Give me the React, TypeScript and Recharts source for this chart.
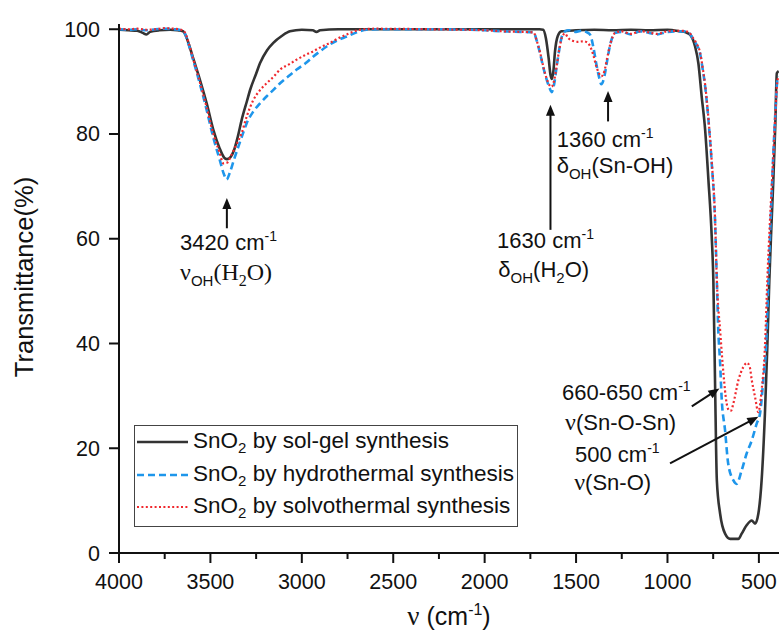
import React from 'react';
import { LineChart, Line, XAxis, YAxis, ReferenceLine, ReferenceDot, Legend } from 'recharts';

const SANS = '"Liberation Sans", Arial, sans-serif';
const SERIF = '"Liberation Serif", "Times New Roman", serif';
const INK = '#111';

// wavenumber (cm-1), transmittance (%)
const solGel: [number, number][] = [
  [4000, 99.9], [3950, 99.8], [3900, 99.7], [3870, 99.3], [3850, 99.0], [3830, 99.5], [3780, 99.8],
  [3720, 99.9], [3680, 99.8], [3650, 99.6], [3635, 98.8], [3615, 96.8], [3590, 94], [3557, 90.3],
  [3520, 85.8], [3484, 80.8], [3450, 77.3], [3425, 75.5], [3410, 75.2], [3390, 75.6], [3370, 77],
  [3350, 79.5], [3329, 82.7], [3300, 86.3], [3283, 88.4], [3250, 91.5], [3229, 93.5], [3190, 96],
  [3156, 97.4], [3110, 98.7], [3065, 99.6], [3000, 99.9], [2940, 99.8], [2920, 99.5], [2900, 99.8],
  [2800, 100], [2500, 100], [2200, 100], [1900, 100], [1700, 100], [1680, 99.9], [1665, 98.3],
  [1650, 94.5], [1640, 91.3], [1632, 90.5], [1624, 92], [1615, 95.8], [1600, 98.7], [1580, 99.6],
  [1500, 99.8], [1400, 99.9], [1300, 99.8], [1200, 99.9], [1100, 99.8], [1000, 99.9], [931, 99.6],
  [900, 99.4], [877, 99], [849, 96.7], [831, 93.5], [813, 87.2], [794, 80.8], [776, 71.2], [758, 60.4],
  [749, 52], [740, 33], [730, 13.9], [712, 7.5], [685, 3.7], [657, 2.7], [612, 2.7], [594, 3.7],
  [567, 5.3], [539, 6.2], [521, 5.6], [503, 7.5], [485, 13.9], [467, 26.6], [454, 39.3], [443, 52],
  [432, 62], [421, 71.2], [410, 82], [402, 91.6], [392, 92],
];

const hydrothermal: [number, number][] = [
  [4000, 100], [3950, 99.9], [3900, 100], [3850, 99.8], [3800, 100], [3750, 100.1], [3700, 100],
  [3660, 99.8], [3640, 99.2], [3620, 97.2], [3600, 94.8], [3557, 89.5], [3520, 84.5], [3484, 79.3],
  [3450, 75.2], [3425, 72.2], [3411, 71.3], [3395, 72.5], [3370, 75.2], [3347, 77.6], [3320, 80.3],
  [3301, 82.1], [3265, 84.3], [3230, 85.8], [3192, 87.2], [3150, 88.6], [3119, 89.7], [3070, 91.1],
  [3028, 92.3], [2980, 93.5], [2937, 94.8], [2900, 95.8], [2864, 96.7], [2810, 97.8], [2754, 98.6],
  [2700, 99.4], [2645, 99.9], [2550, 100], [2300, 100], [2000, 99.8], [1900, 99.6], [1800, 99.5],
  [1733, 99.4], [1715, 97.8], [1697, 95.4], [1680, 92.8], [1660, 90.3], [1645, 88.8], [1634, 88],
  [1620, 89.5], [1606, 92.9], [1590, 96.5], [1578, 98.6], [1560, 99.6], [1540, 99.8], [1500, 99.5],
  [1470, 99.7], [1440, 99.4], [1424, 99.0], [1405, 96.5], [1390, 93.5], [1375, 91], [1362, 89.5],
  [1345, 91], [1330, 94], [1310, 97.5], [1287, 99.3], [1250, 99.5], [1200, 99.0], [1150, 99.6],
  [1100, 99.3], [1058, 99.0], [1000, 99.5], [950, 99.6], [913, 99.6], [880, 99.2], [858, 98],
  [840, 97], [822, 95.4], [808, 92.5], [794, 89.1], [776, 82.7], [758, 74.4], [740, 63.6], [730, 52],
  [722, 42.5], [712, 36.2], [704, 29.8], [685, 23.4], [668, 17.1], [640, 13.9], [622, 13.2],
  [594, 15.8], [567, 19], [539, 21.5], [512, 24.7], [494, 26.6], [476, 33], [461, 39.3], [448, 52],
  [435, 64], [421, 76.3], [410, 84], [399, 90.3], [392, 91],
];

const solvothermal: [number, number][] = [
  [4000, 100.1], [3950, 100], [3900, 100.1], [3850, 99.9], [3800, 100], [3750, 100.2], [3700, 100.1],
  [3660, 99.9], [3640, 99.4], [3620, 97.5], [3600, 95], [3557, 89.8], [3520, 85], [3484, 80],
  [3450, 76.5], [3429, 74.4], [3410, 74.5], [3385, 76], [3360, 77.8], [3329, 80.2], [3300, 83.5],
  [3265, 86.5], [3230, 88.3], [3192, 89.7], [3150, 91.1], [3119, 92.3], [3070, 93.3], [3028, 94.2],
  [2980, 95.1], [2937, 95.8], [2890, 96.7], [2846, 97.4], [2800, 98.3], [2754, 99], [2682, 99.9],
  [2600, 100.1], [2300, 100], [2000, 99.8], [1900, 99.6], [1800, 99.5], [1733, 99.4], [1715, 97.8],
  [1697, 95.6], [1680, 93], [1660, 90.5], [1645, 89.3], [1634, 89], [1620, 90.2], [1606, 93],
  [1590, 96.5], [1578, 98.4], [1560, 99.2], [1545, 98.4], [1520, 97.8], [1490, 97.6], [1460, 97.7],
  [1440, 97.5], [1424, 96.8], [1405, 95], [1390, 93], [1375, 91.6], [1362, 91], [1345, 92],
  [1330, 94.5], [1310, 97.5], [1287, 99.3], [1250, 99.6], [1200, 99.1], [1150, 99.6], [1100, 99.4],
  [1058, 99.1], [1000, 99.6], [950, 99.7], [913, 99.7], [880, 99.3], [858, 98.2], [840, 97.2],
  [822, 95.6], [808, 92.8], [794, 89.4], [776, 83], [758, 74.8], [740, 64], [730, 52.1], [712, 42.5],
  [694, 34.3], [676, 28.5], [662, 27.2], [652, 27.2], [640, 28.5], [612, 33], [585, 35.5], [565, 36.3],
  [550, 35.5], [539, 33], [521, 29.8], [503, 26.9], [485, 31.1], [467, 39.3], [454, 52], [440, 63],
  [421, 76], [410, 84], [399, 90], [392, 91],
];

const majorX = [4000, 3500, 3000, 2500, 2000, 1500, 1000, 500];
const minorX = [3750, 3250, 2750, 2250, 1750, 1250, 750];
const yTicks = [0, 20, 40, 60, 80, 100];

const seriesNames = [
  'SnO2 by sol-gel synthesis',
  'SnO2 by hydrothermal synthesis',
  'SnO2 by solvothermal synthesis',
];

const toRows = (arr: [number, number][]) => arr.map(([wn, t]) => ({ wn, t }));

const series = [
  { name: seriesNames[0], data: toRows(solGel), color: '#333333', width: 2.6, dash: undefined as string | undefined },
  { name: seriesNames[1], data: toRows(hydrothermal), color: '#1E96EB', width: 2.6, dash: '7 4' },
  { name: seriesNames[2], data: toRows(solvothermal), color: '#F0282D', width: 2.2, dash: '2 2.4' },
];

// arrows: [tail wn, tail T, tip wn, tip T]
const arrows: [number, number, number, number][] = [
  [3410, 62, 3410, 67.8],
  [1640, 61.7, 1640, 85.6],
  [1325, 82.4, 1325, 88.2],
  [867, 28, 716, 31.4],
  [986, 17.1, 503, 26],
];

const FS = 22;
const sup = (s: string) => [
  <tspan key="a" dy={-9} fontSize={14}>{s}</tspan>,
  <tspan key="b" dy={9}> </tspan>,
];
const cm = (num: string) => (
  <>
    {num} cm{sup('-1')}
  </>
);

const annotations: { wn: number; t: number; content: React.ReactNode }[] = [
  { wn: 3666, t: 57.8, content: cm('3420') },
  {
    wn: 3666, t: 52.1, content: (
      <>
        <tspan fontFamily={SERIF} fontSize={24}>ν</tspan>
        <tspan dy={6} fontSize={15}>OH</tspan>
        <tspan dy={-6} fontFamily={SERIF} fontSize={24}>(H</tspan>
        <tspan dy={6} fontFamily={SERIF} fontSize={16}>2</tspan>
        <tspan dy={-6} fontFamily={SERIF} fontSize={24}>O)</tspan>
      </>
    ),
  },
  { wn: 1932, t: 58.2, content: cm('1630') },
  {
    wn: 1925, t: 52.7, content: (
      <>
        δ<tspan dy={6} fontSize={15}>OH</tspan>
        <tspan dy={-6}>(H</tspan>
        <tspan dy={6} fontSize={15}>2</tspan>
        <tspan dy={-6}>O)</tspan>
      </>
    ),
  },
  { wn: 1606, t: 77.6, content: cm('1360') },
  {
    wn: 1606, t: 72.5, content: (
      <>
        δ<tspan dy={6} fontSize={15}>OH</tspan>
        <tspan dy={-6}>(Sn-OH)</tspan>
      </>
    ),
  },
  { wn: 1577, t: 29.2, content: cm('660-650') },
  {
    wn: 1560, t: 23.4, content: (
      <>
        <tspan fontFamily={SERIF} fontSize={24}>ν</tspan>(Sn-O-Sn)
      </>
    ),
  },
  { wn: 1506, t: 17.3, content: cm('500') },
  {
    wn: 1510, t: 12, content: (
      <>
        <tspan fontFamily={SERIF} fontSize={24}>ν</tspan>(Sn-O)
      </>
    ),
  },
];

const Arrow = (p: any) => {
  const { x1, y1, x2, y2 } = p;
  const dx = x2 - x1;
  const dy = y2 - y1;
  const len = Math.hypot(dx, dy) || 1;
  const ux = dx / len;
  const uy = dy / len;
  const hl = 11;
  const hw = 4.5;
  const bx = x2 - ux * hl;
  const by = y2 - uy * hl;
  return (
    <g>
      <line x1={x1} y1={y1} x2={bx + ux * 1} y2={by + uy * 1} stroke={INK} strokeWidth={2} />
      <polygon
        points={`${x2},${y2} ${bx - uy * hw},${by + ux * hw} ${bx + uy * hw},${by - ux * hw}`}
        fill={INK}
      />
    </g>
  );
};

const XTick = (props: any) => {
  const { x, y, payload } = props;
  const major = majorX.includes(payload.value);
  return (
    <g>
      <line x1={x} y1={y} x2={x} y2={y + (major ? 10 : 6)} stroke={INK} strokeWidth={2} />
      {major && (
        <text x={x} y={y + 36} textAnchor="middle" fontSize={21.5} fill={INK} fontFamily={SANS}>
          {payload.value}
        </text>
      )}
    </g>
  );
};

const YTick = (props: any) => {
  const { x, y, payload } = props;
  return (
    <g>
      <line x1={x - 10} y1={y} x2={x} y2={y} stroke={INK} strokeWidth={2} />
      <text x={x - 19} y={y + 7.5} textAnchor="end" fontSize={21.5} fill={INK} fontFamily={SANS}>
        {payload.value}
      </text>
    </g>
  );
};

const nameNode = (name: string) => {
  const rest = name.replace(/^SnO2/, '');
  return (
    <span>
      SnO<span style={{ fontSize: 15, position: 'relative', top: 5 }}>2</span>
      {rest}
    </span>
  );
};

const renderLegend = (props: any) => {
  const payload = [...(props.payload || [])].sort(
    (a: any, b: any) => seriesNames.indexOf(a.value) - seriesNames.indexOf(b.value)
  );
  return (
    <div
      style={{
        width: 384,
        height: 102,
        boxSizing: 'border-box',
        border: '1.5px solid #444',
        background: '#fff',
        fontFamily: SANS,
        fontSize: 22.5,
        color: INK,
        paddingTop: 0,
      }}
    >
      {payload.map((p: any) => {
        const s = series.find((q) => q.name === p.value) || series[0];
        return (
          <div key={p.value} style={{ display: 'flex', alignItems: 'center', height: 32.6, lineHeight: '24px' }}>
            <svg width={58} height={10} style={{ display: 'block', flex: 'none' }}>
              <line x1={2} y1={5} x2={53} y2={5} stroke={s.color} strokeWidth={s.width} strokeDasharray={s.dash} />
            </svg>
            {nameNode(p.value)}
          </div>
        );
      })}
    </div>
  );
};

export default function App() {
  return (
    <div style={{ position: 'absolute', left: 0, top: 0, width: 779, height: 634, background: '#fff' }}>
      <LineChart width={779} height={634} margin={{ top: 24, right: 0, bottom: 0, left: 0 }} style={{ fontFamily: SANS }}>
        <XAxis
          type="number"
          dataKey="wn"
          domain={[390, 4000]}
          reversed
          allowDataOverflow
          ticks={[...majorX, ...minorX].sort((a, b) => b - a)}
          interval={0}
          tick={<XTick />}
          tickLine={false}
          tickSize={0}
          tickMargin={0}
          height={81}
          axisLine={{ stroke: INK, strokeWidth: 2 }}
          label={(lp: any) => {
            const vb = lp.viewBox || { x: 119, y: 553, width: 660, height: 81 };
            return (
              <text x={vb.x + vb.width / 2} y={vb.y + 72} textAnchor="middle" fontSize={25} fill={INK} fontFamily={SANS}>
                <tspan fontFamily={SERIF} fontSize={27}>ν</tspan> (cm
                <tspan dy={-10} fontSize={16}>-1</tspan>
                <tspan dy={10}>)</tspan>
              </text>
            );
          }}
        />
        <YAxis
          type="number"
          domain={[0, 101]}
          allowDataOverflow
          ticks={yTicks}
          interval={0}
          tick={<YTick />}
          tickLine={false}
          tickSize={0}
          tickMargin={0}
          width={119}
          axisLine={{ stroke: INK, strokeWidth: 2 }}
          label={() => (
            <text
              x={24}
              y={277}
              transform="rotate(-90, 24, 277)"
              textAnchor="middle"
              dominantBaseline="central"
              fontSize={25.5}
              fill={INK}
              fontFamily={SANS}
            >
              Transmittance(%)
            </text>
          )}
        />
        {series.map((s) => (
          <Line
            key={s.name}
            name={s.name}
            data={s.data}
            dataKey="t"
            type="monotone"
            stroke={s.color}
            strokeWidth={s.width}
            strokeDasharray={s.dash}
            dot={false}
            activeDot={false}
            isAnimationActive={false}
          />
        ))}
        {arrows.map(([x1, y1, x2, y2], i) => (
          <ReferenceLine
            key={'a' + i}
            segment={[{ x: x1, y: y1 }, { x: x2, y: y2 }]}
            shape={Arrow}
            ifOverflow="visible"
          />
        ))}
        {annotations.map((a, i) => (
          <ReferenceDot
            key={'t' + i}
            x={a.wn}
            y={a.t}
            r={0}
            ifOverflow="visible"
            shape={(p: any) => (
              <text x={p.cx} y={p.cy} fontSize={FS} fill={INK} fontFamily={SANS}>
                {a.content}
              </text>
            )}
          />
        ))}
        <Legend
          layout="vertical"
          align="center"
          verticalAlign="middle"
          content={renderLegend}
          wrapperStyle={{ position: 'absolute', left: 134, top: 425, width: 384, height: 102 }}
        />
      </LineChart>
    </div>
  );
}
